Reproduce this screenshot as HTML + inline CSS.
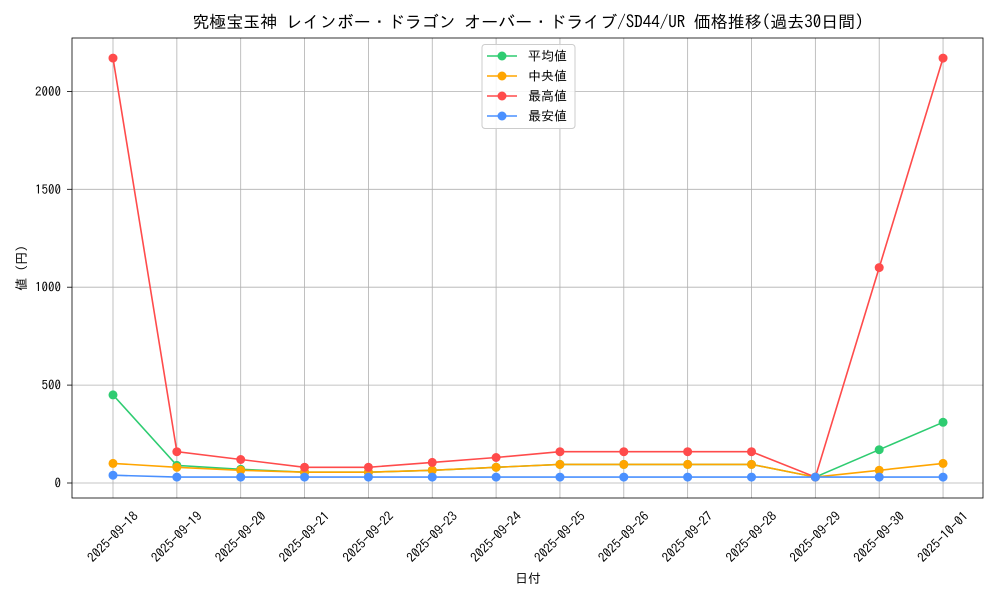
<!DOCTYPE html>
<html><head><meta charset="utf-8"><style>
body{margin:0;background:#fff}
svg{display:block;font-family:"IPAGothic","Noto Sans CJK JP",monospace}
</style></head><body>
<svg width="1000" height="600" viewBox="0 0 1000 600" xmlns="http://www.w3.org/2000/svg">
<rect width="1000" height="600" fill="#fff"/>
<text x="528" y="28" font-size="17" text-anchor="middle" fill="#000">究極宝玉神 レインボー・ドラゴン オーバー・ドライブ/SD44/UR 価格推移(過去30日間)</text>
<g stroke="#b0b0b0" stroke-width="0.8">
<line x1="113" y1="38" x2="113" y2="498"/><line x1="176.85" y1="38" x2="176.85" y2="498"/><line x1="240.7" y1="38" x2="240.7" y2="498"/><line x1="304.55" y1="38" x2="304.55" y2="498"/><line x1="368.4" y1="38" x2="368.4" y2="498"/><line x1="432.25" y1="38" x2="432.25" y2="498"/><line x1="496.1" y1="38" x2="496.1" y2="498"/><line x1="559.95" y1="38" x2="559.95" y2="498"/><line x1="623.8" y1="38" x2="623.8" y2="498"/><line x1="687.65" y1="38" x2="687.65" y2="498"/><line x1="751.5" y1="38" x2="751.5" y2="498"/><line x1="815.35" y1="38" x2="815.35" y2="498"/><line x1="879.2" y1="38" x2="879.2" y2="498"/><line x1="943.05" y1="38" x2="943.05" y2="498"/>
<line x1="72" y1="483" x2="983" y2="483"/><line x1="72" y1="385.1" x2="983" y2="385.1"/><line x1="72" y1="287.2" x2="983" y2="287.2"/><line x1="72" y1="189.3" x2="983" y2="189.3"/><line x1="72" y1="91.4" x2="983" y2="91.4"/>
</g>
<rect x="72" y="38" width="911" height="460" fill="none" stroke="#000" stroke-width="0.8"/>
<g font-size="13" fill="#000" text-anchor="end">
<text x="61" y="487.5">0</text><text x="61" y="389.6">500</text><text x="61" y="291.7">1000</text><text x="61" y="193.8">1500</text><text x="61" y="95.9">2000</text>
</g>
<g stroke="#000" stroke-width="0.8">
<line x1="67" y1="483" x2="72" y2="483"/><line x1="67" y1="385.1" x2="72" y2="385.1"/><line x1="67" y1="287.2" x2="72" y2="287.2"/><line x1="67" y1="189.3" x2="72" y2="189.3"/><line x1="67" y1="91.4" x2="72" y2="91.4"/>
</g>
<g font-size="13" fill="#000" text-anchor="middle">
<text transform="translate(116,540) rotate(-45)">2025-09-18</text>
<text transform="translate(179.85,540) rotate(-45)">2025-09-19</text>
<text transform="translate(243.7,540) rotate(-45)">2025-09-20</text>
<text transform="translate(307.55,540) rotate(-45)">2025-09-21</text>
<text transform="translate(371.4,540) rotate(-45)">2025-09-22</text>
<text transform="translate(435.25,540) rotate(-45)">2025-09-23</text>
<text transform="translate(499.1,540) rotate(-45)">2025-09-24</text>
<text transform="translate(562.95,540) rotate(-45)">2025-09-25</text>
<text transform="translate(626.8,540) rotate(-45)">2025-09-26</text>
<text transform="translate(690.65,540) rotate(-45)">2025-09-27</text>
<text transform="translate(754.5,540) rotate(-45)">2025-09-28</text>
<text transform="translate(818.35,540) rotate(-45)">2025-09-29</text>
<text transform="translate(882.2,540) rotate(-45)">2025-09-30</text>
<text transform="translate(946.05,540) rotate(-45)">2025-10-01</text>
</g>
<text x="528" y="583" font-size="13" text-anchor="middle">日付</text>
<text transform="translate(26,268) rotate(-90)" font-size="13" text-anchor="middle">値 (円)</text>
<g fill="none" stroke-width="1.6">
<polyline stroke="#2ecc71" points="113,394.9 176.85,465.4 240.7,469.3 304.55,472.2 368.4,472.2 432.25,470.3 496.1,467.3 559.95,464.4 623.8,464.4 687.65,464.4 751.5,464.4 815.35,477.1 879.2,449.7 943.05,422.3"/>
<polyline stroke="#ffa500" points="113,463.4 176.85,467.3 240.7,470.3 304.55,472.2 368.4,472.2 432.25,470.3 496.1,467.3 559.95,464.4 623.8,464.4 687.65,464.4 751.5,464.4 815.35,477.1 879.2,470.3 943.05,463.4"/>
<polyline stroke="#ff4b4b" points="113,58.1 176.85,451.7 240.7,459.5 304.55,467.3 368.4,467.3 432.25,462.4 496.1,457.5 559.95,451.7 623.8,451.7 687.65,451.7 751.5,451.7 815.35,477.1 879.2,267.6 943.05,58.1"/>
<polyline stroke="#4a90ff" points="113,475.2 176.85,477.1 240.7,477.1 304.55,477.1 368.4,477.1 432.25,477.1 496.1,477.1 559.95,477.1 623.8,477.1 687.65,477.1 751.5,477.1 815.35,477.1 879.2,477.1 943.05,477.1"/>
</g>
<g fill="#2ecc71"><circle cx="113" cy="394.9" r="4.5"/><circle cx="176.85" cy="465.4" r="4.5"/><circle cx="240.7" cy="469.3" r="4.5"/><circle cx="304.55" cy="472.2" r="4.5"/><circle cx="368.4" cy="472.2" r="4.5"/><circle cx="432.25" cy="470.3" r="4.5"/><circle cx="496.1" cy="467.3" r="4.5"/><circle cx="559.95" cy="464.4" r="4.5"/><circle cx="623.8" cy="464.4" r="4.5"/><circle cx="687.65" cy="464.4" r="4.5"/><circle cx="751.5" cy="464.4" r="4.5"/><circle cx="815.35" cy="477.1" r="4.5"/><circle cx="879.2" cy="449.7" r="4.5"/><circle cx="943.05" cy="422.3" r="4.5"/></g>
<g fill="#ffa500"><circle cx="113" cy="463.4" r="4.5"/><circle cx="176.85" cy="467.3" r="4.5"/><circle cx="240.7" cy="470.3" r="4.5"/><circle cx="304.55" cy="472.2" r="4.5"/><circle cx="368.4" cy="472.2" r="4.5"/><circle cx="432.25" cy="470.3" r="4.5"/><circle cx="496.1" cy="467.3" r="4.5"/><circle cx="559.95" cy="464.4" r="4.5"/><circle cx="623.8" cy="464.4" r="4.5"/><circle cx="687.65" cy="464.4" r="4.5"/><circle cx="751.5" cy="464.4" r="4.5"/><circle cx="815.35" cy="477.1" r="4.5"/><circle cx="879.2" cy="470.3" r="4.5"/><circle cx="943.05" cy="463.4" r="4.5"/></g>
<g fill="#ff4b4b"><circle cx="113" cy="58.1" r="4.5"/><circle cx="176.85" cy="451.7" r="4.5"/><circle cx="240.7" cy="459.5" r="4.5"/><circle cx="304.55" cy="467.3" r="4.5"/><circle cx="368.4" cy="467.3" r="4.5"/><circle cx="432.25" cy="462.4" r="4.5"/><circle cx="496.1" cy="457.5" r="4.5"/><circle cx="559.95" cy="451.7" r="4.5"/><circle cx="623.8" cy="451.7" r="4.5"/><circle cx="687.65" cy="451.7" r="4.5"/><circle cx="751.5" cy="451.7" r="4.5"/><circle cx="815.35" cy="477.1" r="4.5"/><circle cx="879.2" cy="267.6" r="4.5"/><circle cx="943.05" cy="58.1" r="4.5"/></g>
<g fill="#4a90ff"><circle cx="113" cy="475.2" r="4.5"/><circle cx="176.85" cy="477.1" r="4.5"/><circle cx="240.7" cy="477.1" r="4.5"/><circle cx="304.55" cy="477.1" r="4.5"/><circle cx="368.4" cy="477.1" r="4.5"/><circle cx="432.25" cy="477.1" r="4.5"/><circle cx="496.1" cy="477.1" r="4.5"/><circle cx="559.95" cy="477.1" r="4.5"/><circle cx="623.8" cy="477.1" r="4.5"/><circle cx="687.65" cy="477.1" r="4.5"/><circle cx="751.5" cy="477.1" r="4.5"/><circle cx="815.35" cy="477.1" r="4.5"/><circle cx="879.2" cy="477.1" r="4.5"/><circle cx="943.05" cy="477.1" r="4.5"/></g>
<rect x="482" y="44.5" width="93" height="84" rx="3" fill="#fff" fill-opacity="0.85" stroke="#ccc"/>
<g stroke-width="1.6">
<line x1="487" y1="56" x2="517" y2="56" stroke="#2ecc71"/><circle cx="502" cy="56" r="4.5" fill="#2ecc71"/>
<line x1="487" y1="76" x2="517" y2="76" stroke="#ffa500"/><circle cx="502" cy="76" r="4.5" fill="#ffa500"/>
<line x1="487" y1="96" x2="517" y2="96" stroke="#ff4b4b"/><circle cx="502" cy="96" r="4.5" fill="#ff4b4b"/>
<line x1="487" y1="116" x2="517" y2="116" stroke="#4a90ff"/><circle cx="502" cy="116" r="4.5" fill="#4a90ff"/>
</g>
<g font-size="13" fill="#000">
<text x="528" y="60.5">平均値</text><text x="528" y="80.5">中央値</text><text x="528" y="100.5">最高値</text><text x="528" y="120.5">最安値</text>
</g>
</svg>
</body></html>
